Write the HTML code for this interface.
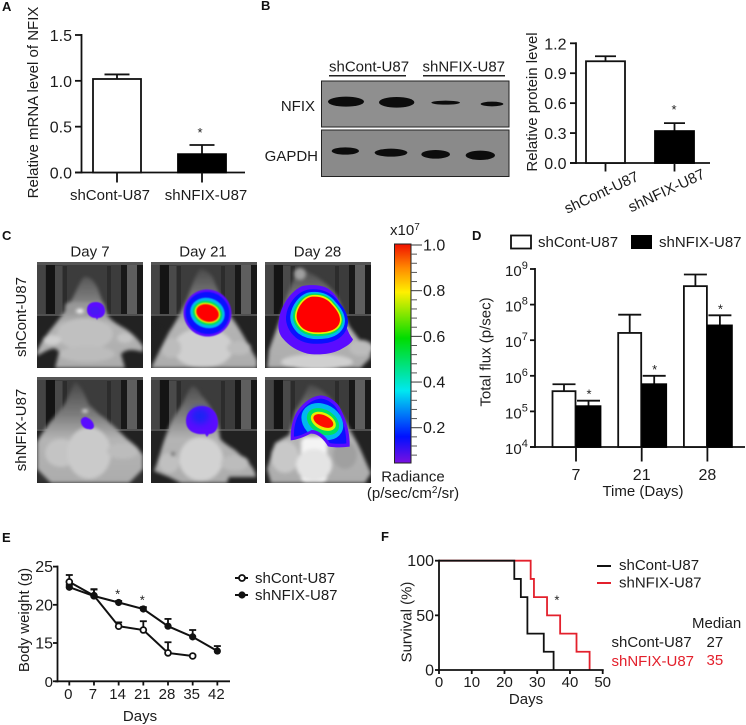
<!DOCTYPE html>
<html lang="en">
<head>
<meta charset="utf-8">
<title>NFIX knockdown figure</title>
<style>
html,body{margin:0;padding:0;background:#fff}
svg{display:block}
text{font-family:"Liberation Sans",Arial,sans-serif;font-size:15px;fill:#1c1c1c}
.panel{font-weight:bold;font-size:13px;fill:#111}
.tk{font-size:16px}
.red{fill:#e3202c}
</style>
</head>
<body>
<svg id="fig" xmlns="http://www.w3.org/2000/svg" width="746" height="725" viewBox="0 0 746 725">
<defs>
<filter id="soft" x="-10%" y="-10%" width="120%" height="120%" color-interpolation-filters="sRGB"><feGaussianBlur stdDeviation="1.8"/></filter>
<filter id="soft2" x="-30%" y="-30%" width="160%" height="160%" color-interpolation-filters="sRGB"><feGaussianBlur stdDeviation="3.5"/></filter>
<filter id="edge" x="-10%" y="-10%" width="120%" height="120%" color-interpolation-filters="sRGB"><feGaussianBlur stdDeviation="0.4"/></filter>
<filter id="band" x="-20%" y="-60%" width="140%" height="220%" color-interpolation-filters="sRGB"><feGaussianBlur stdDeviation="1"/></filter>
<linearGradient id="cbar" x1="0" y1="0" x2="0" y2="1">
<stop offset="0" stop-color="#f01000"/><stop offset=".11" stop-color="#ff8a00"/><stop offset=".22" stop-color="#fff000"/>
<stop offset=".43" stop-color="#00dc00"/><stop offset=".67" stop-color="#00e8f0"/><stop offset=".88" stop-color="#0010ff"/><stop offset="1" stop-color="#7a10e0"/>
</linearGradient>
<linearGradient id="bodyfill" gradientUnits="userSpaceOnUse" x1="0" y1="8" x2="0" y2="106">
<stop offset="0" stop-color="#4c4c4c"/><stop offset=".3" stop-color="#7c7c7c"/><stop offset=".55" stop-color="#b4b4b4"/><stop offset="1" stop-color="#acacac"/>
</linearGradient>
<g id="mouse-bg">
<rect width="106" height="106" fill="#222"/>
<rect x="0" y="0" width="106" height="52" fill="#3c3c3c"/>
<rect x="0" y="0" width="8" height="52" fill="#444"/>
<rect x="9" y="2" width="9" height="52" fill="#141414"/>
<rect x="18" y="4" width="7" height="48" fill="#4a4a4a"/>
<rect x="26" y="4" width="4" height="48" fill="#2c2c2c"/>
<rect x="70" y="4" width="4" height="48" fill="#2c2c2c"/>
<rect x="84" y="2" width="6" height="52" fill="#181818"/>
<rect x="90" y="2" width="10" height="50" fill="#5e5e5e"/>
<rect x="100" y="2" width="6" height="52" fill="#181818"/>
<rect x="0" y="0" width="106" height="3" fill="#555"/>
<rect x="0" y="52" width="106" height="2" fill="#505050"/>
</g>
<clipPath id="imgclip"><rect width="106" height="106"/></clipPath>
<clipPath id="kidneyclip"><path d="M175 73 C152 75 132 90 112 116 C100 135 94 160 95 187 C110 186 130 176 148 167 C168 166 190 185 202 206 C218 209 238 209 252 207 C252 172 242 130 220 98 C208 84 192 74 175 73Z"/></clipPath>
</defs>
<rect width="746" height="725" fill="#fff"/>

<text class="panel" x="2" y="11">A</text>
<text class="panel" x="261" y="10">B</text>
<text class="panel" x="2" y="240">C</text>
<text class="panel" x="472" y="240">D</text>
<text class="panel" x="2" y="542">E</text>
<text class="panel" x="381" y="541">F</text>

<!-- Panel A titles -->
<text transform="translate(38 102.5) rotate(-90)" text-anchor="middle">Relative mRNA level of NFIX</text>
<g id="panelA"></g>

<!-- Panel B blot -->
<g>
<text x="329" y="71.5">shCont-U87</text>
<text x="422.5" y="71.5">shNFIX-U87</text>
<line x1="329" x2="406" y1="75.7" y2="75.7" stroke="#222" stroke-width="1.5"/>
<line x1="423" x2="505" y1="75.7" y2="75.7" stroke="#222" stroke-width="1.5"/>
<text x="315" y="111" text-anchor="end">NFIX</text>
<text x="318" y="161" text-anchor="end">GAPDH</text>
<rect x="321.5" y="81" width="187.5" height="46" fill="#8f8f8f" stroke="#222" stroke-width="1"/>
<rect x="321.5" y="130" width="187.5" height="46.5" fill="#8a8a8a" stroke="#222" stroke-width="1"/>
<g fill="#0c0c0c" filter="url(#band)" transform="translate(250 0) scale(.33333)">
<ellipse cx="288" cy="305" rx="54" ry="15"/>
<ellipse cx="440" cy="307" rx="53" ry="16"/>
<ellipse cx="587" cy="308" rx="43" ry="6"/>
<ellipse cx="726" cy="312" rx="34" ry="7"/>
<ellipse cx="286" cy="453" rx="41" ry="11"/>
<ellipse cx="423" cy="458" rx="49" ry="12"/>
<ellipse cx="557" cy="463" rx="43" ry="13"/>
<ellipse cx="691" cy="466" rx="44" ry="14"/>
</g>
</g>
<text transform="translate(537 102) rotate(-90)" text-anchor="middle">Relative protein level</text>
<g id="panelB"></g>

<!-- Panel C images -->
<text x="90" y="256.5" text-anchor="middle">Day 7</text>
<text x="203" y="256.5" text-anchor="middle">Day 21</text>
<text x="317.5" y="256.5" text-anchor="middle">Day 28</text>
<text transform="translate(26 317) rotate(-90)" text-anchor="middle">shCont-U87</text>
<text transform="translate(26 430) rotate(-90)" text-anchor="middle">shNFIX-U87</text>

<g transform="translate(37 262)" clip-path="url(#imgclip)">
<use href="#mouse-bg"/>
<g filter="url(#soft)">
<path d="M47 15 C42 20 38 34 31 44 C26 52 20 60 11 71 C6 78 2 84 0 90 L0 94 C14 86 18 84 22 90 L18 106 L88 106 L84 92 C90 86 98 88 106 90 L106 84 C100 76 94 70 87 66 C80 62 76 60 71 54 C68 46 64 36 61 27 C57 18 52 14 47 15Z" fill="url(#bodyfill)"/>
<rect x="28" y="40" width="40" height="11" rx="5" fill="#989898"/>
<ellipse cx="43" cy="49" rx="4" ry="2" fill="#fff"/>
<ellipse cx="48" cy="72" rx="28" ry="16" fill="#c0c0c0"/>
<ellipse cx="50" cy="92" rx="28" ry="8" fill="#bcbcbc"/>
<ellipse cx="15" cy="78" rx="9" ry="5" fill="#cfcfcf"/>
<ellipse cx="88" cy="76" rx="8" ry="5" fill="#c4c4c4"/>
</g>
<g filter="url(#edge)">
<path d="M50 48 C50 42 54 40 59 40 C64 40 68 43 68 49 C68 53 65 56 61 56 L60 58 L59 56 C54 56 50 53 50 48Z" fill="#5a0cff"/>
<ellipse cx="58" cy="49" rx="5" ry="4.5" fill="#4a18f4"/>
</g>
</g>

<g transform="translate(151 262)" clip-path="url(#imgclip)">
<use href="#mouse-bg"/>
<g filter="url(#soft)">
<path d="M49 7 C44 14 40 26 36 37 C30 50 24 62 16 73 L8 90 L0 106 L106 106 L106 98 C98 84 90 68 79 53 C72 42 66 26 62 16 C58 10 54 7 49 7Z" fill="url(#bodyfill)"/>
<ellipse cx="52" cy="86" rx="30" ry="20" fill="#cfcfcf"/>
<ellipse cx="88" cy="86" rx="12" ry="7" fill="#bcbcbc"/>
<ellipse cx="20" cy="86" rx="10" ry="10" fill="#bcbcbc"/>
<path d="M4 64 L18 70 L10 86 L2 80Z" fill="#222"/>
</g>
<g filter="url(#edge)" transform="rotate(18 56.5 51)">
<ellipse cx="56.5" cy="51" rx="24" ry="23.5" fill="#5a0cff"/>
<ellipse cx="56.5" cy="51" rx="22" ry="21" fill="#0a10ff"/>
<ellipse cx="56.5" cy="51" rx="17.5" ry="15" fill="#00b8f0"/>
<ellipse cx="56.5" cy="51" rx="15" ry="12" fill="#00e060"/>
<ellipse cx="56.5" cy="51" rx="13" ry="10" fill="#e8f000"/>
<ellipse cx="56.5" cy="51" rx="11.5" ry="8.5" fill="#ff0000"/>
</g>
</g>

<g transform="translate(265 262)" clip-path="url(#imgclip)">
<use href="#mouse-bg"/>
<g filter="url(#soft)">
<path d="M35 8 C28 14 26 24 22 34 L14 60 L4 88 L2 106 L96 106 C100 100 106 98 106 92 C96 80 90 72 84 64 L72 34 C62 20 44 8 35 8Z" fill="url(#bodyfill)"/>
<ellipse cx="52" cy="100" rx="36" ry="8" fill="#d0d0d0"/>
<ellipse cx="96" cy="86" rx="12" ry="8" fill="#bcbcbc"/>
<ellipse cx="35" cy="12" rx="6" ry="6" fill="#a0a0a0"/>
</g>
<g filter="url(#edge)" transform="translate(-2.67 -2.67) scale(.33333)">
<path d="M120 80 C140 76 170 76 190 84 C215 95 235 125 243 160 C248 190 255 220 272 240 C268 252 250 262 232 272 C205 285 165 288 135 283 C105 275 80 260 62 238 C50 225 45 205 50 180 C55 140 85 95 120 80Z" fill="#5a0cff"/>
<g stroke-linejoin="round">
<path transform="translate(-4 6)" d="M150 112 C175 110 195 118 208 135 C222 150 233 165 233 182 C232 200 218 212 195 217 C170 221 140 221 122 207 C108 195 102 180 103 168 C105 145 125 115 150 112Z" fill="#0a10ff" stroke="#0a10ff" stroke-width="56"/>
<path transform="translate(-2 3)" d="M150 112 C175 110 195 118 208 135 C222 150 233 165 233 182 C232 200 218 212 195 217 C170 221 140 221 122 207 C108 195 102 180 103 168 C105 145 125 115 150 112Z" fill="#00b8f0" stroke="#00b8f0" stroke-width="34"/>
<path transform="translate(-1 1)" d="M150 112 C175 110 195 118 208 135 C222 150 233 165 233 182 C232 200 218 212 195 217 C170 221 140 221 122 207 C108 195 102 180 103 168 C105 145 125 115 150 112Z" fill="#00e060" stroke="#00e060" stroke-width="20"/>
<path d="M150 112 C175 110 195 118 208 135 C222 150 233 165 233 182 C232 200 218 212 195 217 C170 221 140 221 122 207 C108 195 102 180 103 168 C105 145 125 115 150 112Z" fill="#e8f000" stroke="#e8f000" stroke-width="10"/>
<path d="M150 112 C175 110 195 118 208 135 C222 150 233 165 233 182 C232 200 218 212 195 217 C170 221 140 221 122 207 C108 195 102 180 103 168 C105 145 125 115 150 112Z" fill="#ff0000"/>
</g>
</g>
</g>

<g transform="translate(37 377)" clip-path="url(#imgclip)">
<use href="#mouse-bg"/>
<g filter="url(#soft)">
<path d="M38 5 C34 12 31 22 27 28 C22 34 18 40 13 45 L4 58 L0 65 L0 106 L106 106 L106 78 C100 70 96 66 90 62 C82 54 72 44 63 38 C58 34 55 30 52 28 C48 18 44 8 38 5Z" fill="url(#bodyfill)"/>
<ellipse cx="48" cy="34" rx="3" ry="1.4" fill="#fff"/>
<ellipse cx="24" cy="76" rx="16" ry="14" fill="#c4c4c4"/>
<ellipse cx="52" cy="76" rx="22" ry="26" fill="#cacaca"/>
<ellipse cx="86" cy="74" rx="16" ry="8" fill="#bcbcbc"/>
<path d="M0 92 L14 106 L0 106Z M106 92 L92 106 L106 106Z" fill="#333"/>
</g>
<g filter="url(#edge)"><path d="M44 43 C45 40 49 39 51 41 C54 42 57 46 57 49 C57 52 54 53 51 52 C47 52 43 47 44 43Z" fill="#5a0cff"/></g>
</g>

<g transform="translate(151 377)" clip-path="url(#imgclip)">
<use href="#mouse-bg"/>
<g filter="url(#soft)">
<path d="M41 9 C36 14 34 24 29 31 C22 40 17 52 14 61 C10 72 8 82 3 94 L18 100 L30 106 L76 106 L78 100 L105 100 C104 90 96 84 84 73 C76 68 70 64 69 61 C68 44 60 28 50 18 C47 12 44 9 41 9Z" fill="url(#bodyfill)"/>
<ellipse cx="50" cy="82" rx="22" ry="22" fill="#d2d2d2"/>
<ellipse cx="84" cy="86" rx="14" ry="8" fill="#bcbcbc"/>
<ellipse cx="18" cy="86" rx="10" ry="10" fill="#c0c0c0"/>
<ellipse cx="22" cy="77" rx="1.6" ry="1.8" fill="#555"/>
</g>
<g filter="url(#edge)">
<path d="M35 44 C35 35 42 29 51 29 C61 29 67 36 67 46 C67 53 63 57 58 57 L56 60 L54 57 C44 58 35 54 35 44Z" fill="#5a0cff"/>
<ellipse cx="49" cy="39" rx="9" ry="8" fill="#1c24f4" filter="url(#soft2)"/>
</g>
</g>

<g transform="translate(265 377)" clip-path="url(#imgclip)">
<use href="#mouse-bg"/>
<g filter="url(#soft)">
<path d="M44 8 C40 16 38 22 30 34 L24 58 L10 66 L2 92 L6 106 L100 106 L106 96 C100 84 96 72 90 62 L76 36 C66 20 54 8 44 8Z" fill="url(#bodyfill)"/>
<ellipse cx="20" cy="80" rx="14" ry="16" fill="#c8c8c8"/>
<ellipse cx="80" cy="78" rx="12" ry="14" fill="#a0a0a0"/>
<rect x="36" y="60" width="26" height="46" rx="6" fill="#f4f4f4"/>
<ellipse cx="49" cy="88" rx="18" ry="16" fill="#e4e4e4"/>
</g>
<g filter="url(#edge)" transform="translate(-2.67 -2.67) scale(.33333)">
<path d="M175 63 C150 65 125 82 105 110 C92 130 84 160 85 198 C100 198 125 188 145 178 C165 176 185 195 197 216 C215 220 240 220 262 217 C264 180 252 130 228 92 C215 76 195 64 175 63Z" fill="#5a0cff"/>
<path d="M175 73 C152 75 132 90 112 116 C100 135 94 160 95 187 C110 186 130 176 148 167 C168 166 190 185 202 206 C218 209 238 209 252 207 C252 172 242 130 220 98 C208 84 192 74 175 73Z" fill="#0a10ff"/>
<g clip-path="url(#kidneyclip)">
<ellipse cx="180" cy="142" rx="66" ry="52" transform="rotate(30 180 142)" fill="#00b8f0"/>
<ellipse cx="182" cy="142" rx="52" ry="36" transform="rotate(30 182 142)" fill="#00e060"/>
<ellipse cx="183" cy="141" rx="40" ry="25" transform="rotate(27 183 141)" fill="#e8f000"/>
<ellipse cx="183" cy="140" rx="32" ry="17" transform="rotate(25 183 140)" fill="#ff0c00"/>
</g>
</g>
</g>

<!-- colour bar -->
<g id="colorbar">
<rect x="394.5" y="244" width="16.5" height="219" fill="url(#cbar)" stroke="#222" stroke-width="1"/>
<text x="390" y="235">x10<tspan dy="-5" font-size="10">7</tspan></text>
<text x="413" y="481.5" text-anchor="middle">Radiance</text>
<text x="413" y="498" text-anchor="middle">(p/sec/cm<tspan dy="-5" font-size="10">2</tspan><tspan dy="5">/sr)</tspan></text>
</g>

<!-- Panel D -->
<g>
<rect x="511" y="235.5" width="20" height="13" fill="#fff" stroke="#111" stroke-width="1.8"/>
<text x="538" y="247">shCont-U87</text>
<rect x="631" y="235" width="21" height="14" fill="#000"/>
<text x="659" y="247">shNFIX-U87</text>
</g>
<text transform="translate(490.5 352) rotate(-90)" text-anchor="middle">Total flux (p/sec)</text>
<text x="643" y="496" text-anchor="middle">Time (Days)</text>
<g id="panelD"></g>

<!-- Panel E -->
<text transform="translate(29 620) rotate(-90)" text-anchor="middle">Body weight (g)</text>
<text x="140" y="721" text-anchor="middle">Days</text>
<g id="panelE"></g>
<g>
<line x1="235" x2="248" y1="578" y2="578" stroke="#111" stroke-width="2"/>
<circle cx="242" cy="578" r="3" fill="#fff" stroke="#111" stroke-width="1.8"/>
<text x="255" y="583">shCont-U87</text>
<line x1="235" x2="248" y1="595" y2="595" stroke="#111" stroke-width="2"/>
<circle cx="242" cy="595" r="3.6" fill="#111"/>
<text x="255" y="600">shNFIX-U87</text>
</g>

<!-- Panel F -->
<text transform="translate(411.5 622) rotate(-90)" text-anchor="middle">Survival (%)</text>
<text x="526" y="704" text-anchor="middle">Days</text>
<g id="panelF"></g>
<g>
<line x1="597" x2="611" y1="566" y2="566" stroke="#111" stroke-width="2"/>
<text x="619" y="570">shCont-U87</text>
<line x1="597" x2="611" y1="583" y2="583" stroke="#e3202c" stroke-width="2"/>
<text x="619" y="587.5">shNFIX-U87</text>
</g>
<g>
<text x="692" y="628">Median</text>
<text x="611.5" y="647">shCont-U87</text>
<text x="706.5" y="647">27</text>
<text class="red" x="611.5" y="666">shNFIX-U87</text>
<text class="red" x="706.5" y="665">35</text>
</g>
</svg>

<script>
// Panel A data
const aCategories = ['shCont-U87', 'shNFIX-U87'];
const aMeans = [1.02, 0.20];
const aUpper = [1.07, 0.30];
const aTicks = [0, 0.5, 1.0, 1.5];
// Panel B data
const bCategories = ['shCont-U87', 'shNFIX-U87'];
const bMeans = [1.02, 0.32];
const bUpper = [1.07, 0.40];
const bTicks = [0, 0.3, 0.6, 0.9, 1.2];
// Colour bar ticks
const cbTicks = [1.0, 0.8, 0.6, 0.4, 0.2];
const cbMinor = [0.96, 0.92, 0.88, 0.84, 0.76, 0.72, 0.68, 0.64, 0.56, 0.52, 0.48, 0.44, 0.36, 0.32, 0.28, 0.24, 0.16, 0.12, 0.08];
// Panel D data
const dDays = ['7', '21', '28'];
const dContMeans = [3.7e5, 1.6e7, 3.3e8];
const dContUpper = [5.8e5, 5.2e7, 7e8];
const dNfixMeans = [1.4e5, 5.8e5, 2.6e7];
const dNfixUpper = [2e5, 1e6, 5e7];
const dExponents = [4, 5, 6, 7, 8, 9];
// Panel E data
const eDays = [0, 7, 14, 21, 28, 35, 42];
const eContMeans = [23.0, 21.2, 17.2, 16.7, 13.7, 13.3];
const eContUpper = [23.9, 22.0, 17.7, 17.85, 15.1, 13.4];
const eNfixMeans = [22.3, 21.15, 20.3, 19.45, 17.2, 15.8, 13.95];
const eNfixUpper = [22.6, 22.05, 20.5, 19.7, 18.15, 16.7, 14.6];
const eTicks = [15, 20, 25];
const eStarDays = [14, 21];
// Panel F data
const fXTicks = [0, 10, 20, 30, 40, 50];
const fYTicks = [0, 50, 100];
const fContTimes = [0, 23, 25, 27, 32, 35];
const fContSurv = [100, 83.3, 66.7, 33.3, 16.7, 0];
const fNfixTimes = [0, 28, 29, 33, 37, 42, 46];
const fNfixSurv = [100, 83.3, 66.7, 50, 33.3, 16.7, 0];

const NS = 'http://www.w3.org/2000/svg';
function add(parent, tag, name, attrs, text) {
  const el = document.createElementNS(NS, tag);
  
  
  for (const k in attrs) el.setAttribute(k, attrs[k]);
  if (text !== undefined) el.textContent = text;
  parent.appendChild(el);
  return el;
}
function line(p, name, x1, y1, x2, y2, w, color) {
  return add(p, 'line', name, {x1, y1, x2, y2, stroke: color || '#111', 'stroke-width': w || 1.8});
}
function star(p, name, cx, cy) {
  return add(p, 'text', name, {x: cx, y: cy + 7, 'text-anchor': 'middle', 'font-size': 13, style: 'font-size:13px'}, '*');
}
function bar(p, name, x0, x1, yTop, yBase, yErr, capHalf, fill) {
  const cx = (x0 + x1) / 2;
  line(p, name + '-error', cx, yTop, cx, yErr);
  line(p, name + '-error-cap', cx - capHalf, yErr, cx + capHalf, yErr);
  add(p, 'rect', name, {x: x0 + 1, y: yTop, width: x1 - x0 - 2, height: yBase - yTop, fill, stroke: fill === '#000' ? '#000' : '#111', 'stroke-width': 1.8});
}

// ---- Panel A ----
(function () {
  const g = document.getElementById('panelA');
  const y = v => 172.5 - v * 91.67;
  const x = i => 117 + i * 85;
  line(g, 'a-y-axis', 81.5, y(1.5) - 1, 81.5, y(0) + 1);
  line(g, 'a-x-axis', 75, y(0), 245, y(0));
  aTicks.forEach(t => {
    line(g, 'a-y-tick', 75, y(t), 81.5, y(t));
    add(g, 'text', 'a-y-tick-label', {x: 72, y: y(t) + 6, 'text-anchor': 'end', class: 'tk'}, t.toFixed(1));
  });
  aCategories.forEach((c, i) => {
    bar(g, 'a-bar-' + i, x(i) - 25, x(i) + 25, y(aMeans[i]), y(0), y(aUpper[i]), 12.5, i ? '#000' : '#fff');
    line(g, 'a-x-tick', x(i), y(0), x(i), 182.5);
    add(g, 'text', 'a-x-tick-label', {x: x(i) + (i ? 4 : -7), y: 200, 'text-anchor': 'middle'}, c);
  });
  star(g, 'a-significance-star', x(1) - 2, 130);
})();

// ---- Panel B ----
(function () {
  const g = document.getElementById('panelB');
  const y = v => 163 - v * 99.75;
  const x = i => 605.5 + i * 69;
  line(g, 'b-y-axis', 576, y(1.2) - 1, 576, y(0) + 1);
  line(g, 'b-x-axis', 570, y(0), 710, y(0));
  bTicks.forEach(t => {
    line(g, 'b-y-tick', 570, y(t), 576, y(t));
    add(g, 'text', 'b-y-tick-label', {x: 566.5, y: y(t) + 6, 'text-anchor': 'end', class: 'tk'}, t.toFixed(1));
  });
  bCategories.forEach((c, i) => {
    bar(g, 'b-bar-' + i, x(i) - 20.5, x(i) + 20.5, y(bMeans[i]), y(0), y(bUpper[i]), 10.5, i ? '#000' : '#fff');
    line(g, 'b-x-tick', x(i), y(0), x(i), 171.5);
    add(g, 'text', 'b-x-tick-label', {transform: 'translate(' + (x(i) - 2 - i * 4) + ' ' + (197 - i * 2) + ') rotate(-25)', 'text-anchor': 'middle'}, c);
  });
  star(g, 'b-significance-star', x(1) - 0.5, 107);
})();

// ---- Colour bar ticks ----
(function () {
  const g = document.getElementById('colorbar');
  const y = v => 245 + (1 - v) * 228.4;
  cbTicks.forEach(t => {
    line(g, 'colorbar-major-tick', 411, y(t), 422, y(t), 1, '#333');
    add(g, 'text', 'colorbar-tick-label', {x: 423, y: y(t) + 5.5, class: 'tk'}, t.toFixed(1));
  });
  cbMinor.forEach(t => {
    line(g, 'colorbar-minor-tick', 411, y(t), 417, y(t), 1, '#555');
  });
})();

// ---- Panel D ----
(function () {
  const g = document.getElementById('panelD');
  const y = v => 447 - (Math.log10(v) - 4) * 35.6;
  const x = i => 576 + i * 65.7;
  line(g, 'd-y-axis', 535, y(1e9) - 1, 535, y(1e4) + 1);
  line(g, 'd-x-axis', 530, y(1e4), 745, y(1e4));
  dExponents.forEach(e => {
    const v = Math.pow(10, e);
    line(g, 'd-y-tick', 530, y(v), 535, y(v));
    const t = add(g, 'text', 'd-y-tick-label', {x: 505, y: y(v) + 7, class: 'tk', style: 'font-size:15px'}, '10');
    add(t, 'tspan', 'd-y-tick-exponent', {dy: -7, style: 'font-size:11px'}, String(e));
  });
  dDays.forEach((d, i) => {
    const c = x(i);
    bar(g, 'd-bar-cont-' + d, c - 24.5, c + 0.5, y(dContMeans[i]), y(1e4), y(dContUpper[i]), 11.5, '#fff');
    bar(g, 'd-bar-nfix-' + d, c - 0.5, c + 25.5, y(dNfixMeans[i]), y(1e4), y(dNfixUpper[i]), 11.5, '#000');
    line(g, 'd-x-tick', c, y(1e4), c, 461.5);
    add(g, 'text', 'd-x-tick-label', {x: c, y: 480, 'text-anchor': 'middle', class: 'tk'}, d);
    star(g, 'd-significance-star', c + 13, y(dNfixUpper[i]) - 9);
  });
})();

// ---- Panel E ----
(function () {
  const g = document.getElementById('panelE');
  const y = v => 643 + (15 - v) * 7.64;
  const x = d => 69.3 + d * 3.525;
  const yZero = 681.3;
  line(g, 'e-y-axis', 57.5, y(25) - 1, 57.5, yZero + 1);
  line(g, 'e-x-axis', 55, yZero, 230, yZero);
  line(g, 'e-y-tick', 53, yZero, 57.5, yZero);
  add(g, 'text', 'e-y-tick-label', {x: 53, y: yZero + 5.5, 'text-anchor': 'end'}, '0');
  eTicks.forEach(t => {
    line(g, 'e-y-tick', 53, y(t), 57.5, y(t));
    add(g, 'text', 'e-y-tick-label', {x: 53, y: y(t) + 5.5, 'text-anchor': 'end', style: 'font-size:16px'}, String(t));
  });
  eDays.forEach(d => {
    line(g, 'e-x-tick', x(d), yZero, x(d), 685.5);
    add(g, 'text', 'e-x-tick-label', {x: x(d) - 1, y: 699, 'text-anchor': 'middle'}, String(d));
  });
  function series(name, means, upper, filled) {
    const pts = means.map((m, i) => x(eDays[i]) + ',' + y(m)).join(' ');
    add(g, 'polyline', name + '-line', {points: pts, fill: 'none', stroke: '#111', 'stroke-width': 2});
    means.forEach((m, i) => {
      const cx = x(eDays[i]);
      line(g, name + '-error', cx, y(m), cx, y(upper[i]), 1.8);
      line(g, name + '-error-cap', cx - 3.5, y(upper[i]), cx + 3.5, y(upper[i]), 1.8);
    });
    means.forEach((m, i) => {
      const cx = x(eDays[i]);
      add(g, 'circle', name + '-point', filled
        ? {cx, cy: y(m), r: 3.6, fill: '#111'}
        : {cx, cy: y(m), r: 2.9, fill: '#fff', stroke: '#111', 'stroke-width': 1.8});
    });
  }
  series('e-shcont', eContMeans, eContUpper, false);
  series('e-shnfix', eNfixMeans, eNfixUpper, true);
  eStarDays.forEach(d => {
    star(g, 'e-significance-star', x(d) - 1, y(eNfixUpper[eDays.indexOf(d)]) - 9.5);
  });
})();

// ---- Panel F ----
(function () {
  const g = document.getElementById('panelF');
  const y = v => 670 - v * 1.093;
  const x = d => 439 + d * 3.274;
  function steps(times, surv) {
    let d = 'M' + x(times[0]) + ' ' + y(surv[0]);
    for (let i = 1; i < times.length; i++) {
      d += ' L' + x(times[i]) + ' ' + y(surv[i - 1]) + ' L' + x(times[i]) + ' ' + y(surv[i]);
    }
    return d;
  }
  add(g, 'path', 'f-shnfix-curve', {d: steps(fNfixTimes, fNfixSurv), fill: 'none', stroke: '#e3202c', 'stroke-width': 1.8});
  add(g, 'path', 'f-shcont-curve', {d: steps(fContTimes, fContSurv), fill: 'none', stroke: '#111', 'stroke-width': 1.8});
  line(g, 'f-y-axis', x(0), y(100) - 1, x(0), y(0) + 1);
  line(g, 'f-x-axis', x(0) - 1, y(0), x(50) + 1, y(0));
  fYTicks.forEach(t => {
    line(g, 'f-y-tick', x(0) - 4, y(t), x(0), y(t));
    add(g, 'text', 'f-y-tick-label', {x: 434, y: y(t) + 5.5, 'text-anchor': 'end', style: 'font-size:16px'}, String(t));
  });
  fXTicks.forEach(t => {
    line(g, 'f-x-tick', x(t), y(0), x(t), y(0) + 4);
    add(g, 'text', 'f-x-tick-label', {x: x(t), y: 687, 'text-anchor': 'middle'}, String(t));
  });
  star(g, 'f-significance-star', x(36), 597.5);
})();
</script>
</body>
</html>
